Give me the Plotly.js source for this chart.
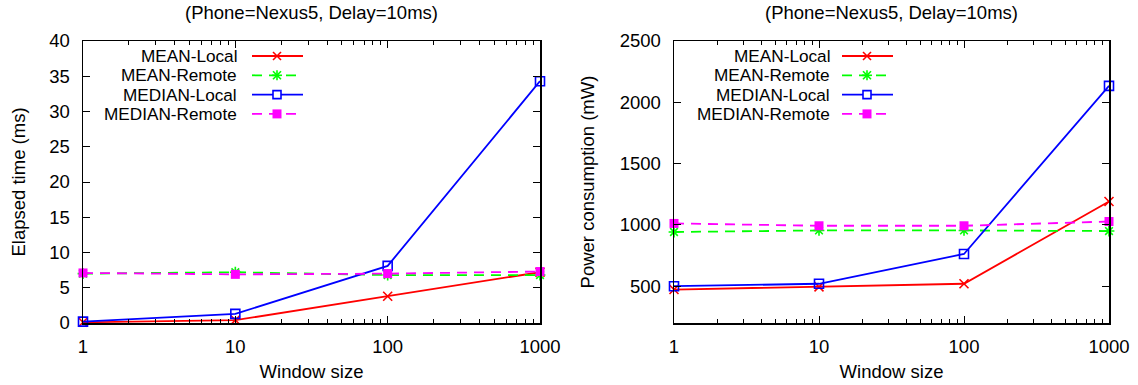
<!DOCTYPE html>
<html><head><meta charset="utf-8">
<script src="https://cdn.plot.ly/plotly-3.0.1.min.js"></script>
<style>html,body{margin:0;padding:0;background:#fff}#chart{width:1138px;height:385px}</style>
</head><body><div id="chart"></div>
<script>
// ---- data ----
const windowSizes = [1, 10, 100, 1000];
const seriesNames = ['MEAN-Local', 'MEAN-Remote', 'MEDIAN-Local', 'MEDIAN-Remote'];
const meanLocalTime = [0.1, 0.4, 3.8, 7.2];
const meanRemoteTime = [7.0, 7.2, 6.8, 6.8];
const medianLocalTime = [0.2, 1.3, 8.1, 34.3];
const medianRemoteTime = [7.1, 6.9, 7.0, 7.3];
const meanLocalPower = [473, 495, 520, 1191];
const meanRemotePower = [942, 955, 955, 950];
const medianLocalPower = [500, 520, 763, 2134];
const medianRemotePower = [1012, 993, 993, 1028];
const chartTitle = '(Phone=Nexus5, Delay=10ms)';
const xTitle = 'Window size';
const yTitleTime = 'Elapsed time (ms)';
const yTitlePower = 'Power consumption (mW)';

// ---- styles ----
const FONT = 'Liberation Sans, Arial, Helvetica, sans-serif';
const FS = 18.5;
const LEG_FS = 17.2;
const DASH = '10px,7px';
const styles = [
  {color: '#ff0000', dash: 'solid', symbol: 'x-thin-open', size: 9, kind: 'x'},
  {color: '#00ff00', dash: DASH, symbol: 'asterisk-open', size: 9, kind: 'ast'},
  {color: '#0000ff', dash: 'solid', symbol: 'square-open', size: 9, kind: 'sqo'},
  {color: '#ff00ff', dash: DASH, symbol: 'square', size: 9, kind: 'sqf'}
];

const timeSeries = [meanLocalTime, meanRemoteTime, medianLocalTime, medianRemoteTime];
const powerSeries = [meanLocalPower, meanRemotePower, medianLocalPower, medianRemotePower];

const traces = [];
function addTraces(series, xa, ya) {
  series.forEach((vals, i) => {
    const s = styles[i];
    traces.push({
      type: 'scatter', mode: 'lines+markers', name: seriesNames[i],
      x: windowSizes, y: vals, xaxis: xa, yaxis: ya, cliponaxis: false,
      line: {color: s.color, width: 1.8, dash: s.dash},
      marker: {symbol: s.symbol, size: s.size, color: s.color,
               line: {color: s.color, width: s.kind === 'sqf' ? 0 : 1.6}},
      showlegend: false
    });
  });
}
addTraces(timeSeries, 'x', 'y');
addTraces(powerSeries, 'x2', 'y2');

// pixel -> paper helpers (plot area 83..1109 x 41..323)
const L = 83, R = 1109, T = 41, B = 323;
const fx = p => (p - L) / (R - L);
const fy = p => (B - p) / (B - T);

const shapes = [];
const annotations = [];
function addLegend(textRight, lineX0, lineX1, markX) {
  seriesNames.forEach((name, i) => {
    const s = styles[i];
    const yr = 56 + i * 19.3;
    annotations.push({xref: 'paper', yref: 'paper', x: fx(textRight), y: fy(yr),
      xanchor: 'right', yanchor: 'middle', text: name, showarrow: false, borderpad: 0,
      font: {family: FONT, size: LEG_FS, color: '#000'}});
    shapes.push({type: 'line', xref: 'paper', yref: 'paper', x0: fx(lineX0), x1: fx(lineX1),
      y0: fy(yr), y1: fy(yr), line: {color: s.color, width: 1.8, dash: s.dash}});
    const base = {xref: 'paper', yref: 'paper', xsizemode: 'pixel', ysizemode: 'pixel',
      xanchor: fx(markX), yanchor: fy(yr)};
    const seg = (x0, y0, x1, y1) => shapes.push(Object.assign({type: 'line', x0, y0, x1, y1,
      line: {color: s.color, width: 1.6}}, base));
    if (s.kind === 'x' || s.kind === 'ast') { seg(-4, -4, 4, 4); seg(-4, 4, 4, -4); }
    if (s.kind === 'ast') { seg(-5, 0, 5, 0); seg(0, -5, 0, 5); }
    if (s.kind === 'sqo') shapes.push(Object.assign({type: 'rect', x0: -4, x1: 4, y0: -4, y1: 4,
      line: {color: s.color, width: 1.6}, fillcolor: 'rgba(255,255,255,1)'}, base));
    if (s.kind === 'sqf') shapes.push(Object.assign({type: 'rect', x0: -4.5, x1: 4.5, y0: -4.5, y1: 4.5,
      line: {width: 0}, fillcolor: s.color}, base));
  });
}
addLegend(238, 252, 303, 277);
addLegend(831, 842, 893, 867);

[311, 891].forEach(cx => annotations.push({xref: 'paper', yref: 'paper', x: fx(cx), y: fy(12.5),
  xanchor: 'center', yanchor: 'middle', text: chartTitle, showarrow: false,
  font: {family: FONT, size: FS, color: '#000'}}));

const xCommon = {
  type: 'log', range: [0, 3], dtick: 1, showline: true, mirror: 'allticks',
  linecolor: '#000', linewidth: 1.5, ticks: 'inside', ticklen: 7, tickwidth: 1, tickcolor: '#000',
  minor: {ticks: 'inside', ticklen: 4, tickwidth: 1, tickcolor: '#000', dtick: 'D1', showgrid: false},
  showgrid: false, zeroline: false, ticklabelstandoff: 6,
  tickfont: {family: FONT, size: FS, color: '#000'},
  title: {text: xTitle, standoff: 9, font: {family: FONT, size: FS, color: '#000'}},
  automargin: false, fixedrange: true
};
const yCommon = {
  showline: true, mirror: 'allticks', linecolor: '#000', linewidth: 1.5,
  ticks: 'inside', ticklen: 7, tickwidth: 1, tickcolor: '#000',
  showgrid: false, zeroline: false, ticklabelstandoff: 8,
  tickfont: {family: FONT, size: FS, color: '#000'}, automargin: false, fixedrange: true
};

const layout = {
  width: 1138, height: 385, paper_bgcolor: '#fff', plot_bgcolor: '#fff',
  margin: {l: L, r: 1138 - R, t: T, b: 385 - B, pad: 0},
  showlegend: false,
  xaxis: Object.assign({}, xCommon, {domain: [0, fx(540)], anchor: 'y'}),
  xaxis2: Object.assign({}, xCommon, {domain: [fx(674), 1], anchor: 'y2'}),
  yaxis: Object.assign({}, yCommon, {range: [0, 40], dtick: 5, anchor: 'x',
    title: {text: yTitleTime, standoff: 18, font: {family: FONT, size: FS, color: '#000'}}}),
  yaxis2: Object.assign({}, yCommon, {range: [200, 2500], tick0: 0, dtick: 500, anchor: 'x2',
    title: {text: yTitlePower, standoff: 20, font: {family: FONT, size: FS, color: '#000'}}}),
  shapes, annotations
};

Plotly.newPlot('chart', traces, layout, {displayModeBar: false, staticPlot: true});
</script>
</body></html>
